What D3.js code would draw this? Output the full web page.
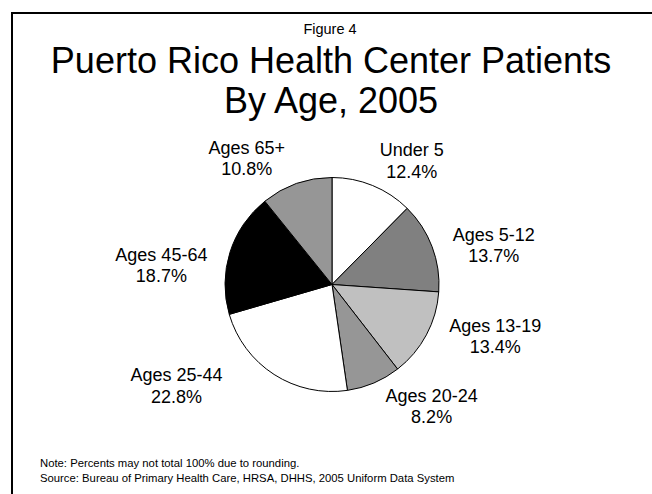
<!DOCTYPE html>
<html>
<head>
<meta charset="utf-8">
<script src="https://cdn.jsdelivr.net/npm/d3@7"></script>
<style>
  html, body { margin: 0; padding: 0; background: #fff; }
  svg { display: block; font-family: "Liberation Sans", Arial, sans-serif; }
</style>
</head>
<body>
<svg id="chart" width="652" height="494"></svg>
<script>
// ---- data ----
const categories = ["Under 5", "Ages 5-12", "Ages 13-19", "Ages 20-24", "Ages 25-44", "Ages 45-64", "Ages 65+"];
const percents   = [12.4, 13.7, 13.4, 8.2, 22.8, 18.7, 10.8];
const sliceColors = ["#ffffff", "#808080", "#c0c0c0", "#969696", "#ffffff", "#000000", "#969696"];
const figureLabel = "Figure 4";
const titleLines = ["Puerto Rico Health Center Patients", "By Age, 2005"];
const noteLines = [
  "Note:  Percents may not total 100% due to rounding.",
  "Source:  Bureau of Primary Health Care, HRSA, DHHS, 2005 Uniform Data System"
];
// label layout nudges (relative to a radial anchor), px
const labelNudge = [[19, 20], [12, 13], [22, -28], [37, -30], [-69, -38], [-18, 24.5], [-32, 20]];

// ---- layout ----
const svg = d3.select("#chart");
const cx = 332, cy = 284.5, radius = 107, labelR = 160;

// frame
svg.append("rect")
  .attr("x", 12).attr("y", 13)
  .attr("width", 660).attr("height", 520)
  .attr("fill", "none").attr("stroke", "#000").attr("stroke-width", 2);

// titles
svg.append("text").attr("x", 330).attr("y", 34)
  .attr("text-anchor", "middle").attr("font-size", 14.5).text(figureLabel);
svg.selectAll("text.title").data(titleLines).join("text")
  .attr("class", "title")
  .attr("x", 331).attr("y", (d, i) => 73 + i * 39.5)
  .attr("text-anchor", "middle").attr("font-size", 36).text(d => d);

// pie
const pie = d3.pie().sort(null).value(d => d.v);
const arcs = pie(categories.map((c, i) => ({ c, v: percents[i], i })));
const arc = d3.arc().innerRadius(0).outerRadius(radius);
const g = svg.append("g").attr("transform", `translate(${cx},${cy})`);
g.selectAll("path").data(arcs).join("path")
  .attr("d", arc)
  .attr("fill", d => sliceColors[d.data.i])
  .attr("stroke", "#000").attr("stroke-width", 1);

// labels
const lg = g.selectAll("g.lbl").data(arcs).join("g").attr("class", "lbl")
  .attr("transform", d => {
    const a = (d.startAngle + d.endAngle) / 2;
    const n = labelNudge[d.data.i];
    const x = labelR * Math.sin(a) + n[0];
    const y = -labelR * Math.cos(a) + n[1];
    return `translate(${x},${y})`;
  });
lg.append("text").attr("text-anchor", "middle").attr("font-size", 18)
  .text(d => d.data.c);
lg.append("text").attr("text-anchor", "middle").attr("font-size", 18).attr("y", 21.5)
  .text(d => d3.format(".1f")(d.data.v) + "%");

// notes
svg.selectAll("text.note").data(noteLines).join("text")
  .attr("class", "note")
  .attr("x", 40).attr("y", (d, i) => 467 + i * 15)
  .attr("font-size", 11.3).text(d => d);
</script>
</body>
</html>
